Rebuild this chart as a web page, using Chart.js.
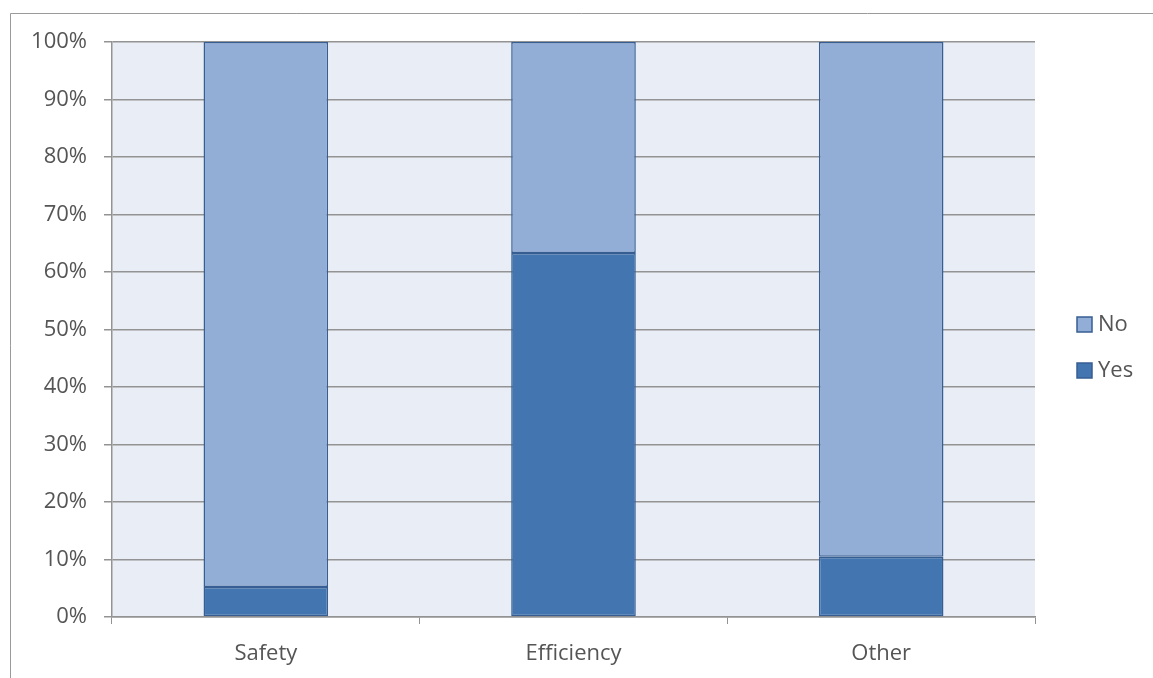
<!DOCTYPE html>
<html>
<head>
<meta charset="utf-8">
<script src="https://cdn.jsdelivr.net/npm/chart.js@4/dist/chart.umd.min.js"></script>
<style>
  html, body { margin: 0; padding: 0; background: #fff; }
  #chart { display: block; }
</style>
</head>
<body>
<canvas id="chart" width="1153" height="678"></canvas>
<script>
// data
const categories = ["Safety", "Efficiency", "Other"];
const yesValues = [5.2, 63.3, 10.5];
const noValues = [94.8, 36.7, 89.5];
const seriesNames = ["Yes", "No"];

const FONT = "'Open Sans', 'Liberation Sans', sans-serif";
const TEXT = "#555555";
const GRID = "#939393";

// frame + plot background
const frame = {
  id: "frame",
  beforeDraw(chart) {
    const { ctx, chartArea: a } = chart;
    ctx.save();
    ctx.fillStyle = "#E9EDF5";
    ctx.fillRect(a.left, a.top, a.right - a.left, a.bottom - a.top);
    ctx.strokeStyle = "#9a9a9a";
    ctx.lineWidth = 1;
    ctx.beginPath();
    ctx.moveTo(10.5, 678);
    ctx.lineTo(10.5, 13.5);
    ctx.lineTo(1153, 13.5);
    ctx.stroke();
    ctx.restore();
  }
};

// legend on the right, No above Yes
const sideLegend = {
  id: "sideLegend",
  afterDraw(chart) {
    const { ctx } = chart;
    const items = chart.data.datasets.slice().reverse();
    ctx.save();
    ctx.font = `22px ${FONT}`;
    ctx.textBaseline = "middle";
    items.forEach((ds, i) => {
      const y = 325 + i * 46;
      ctx.fillStyle = ds.backgroundColor;
      ctx.fillRect(1077, y - 8, 15, 15);
      ctx.strokeStyle = ds.borderColor;
      ctx.lineWidth = 1.5;
      ctx.strokeRect(1077, y - 8, 15, 15);
      ctx.fillStyle = TEXT;
      ctx.fillText(ds.label, 1098, y);
    });
    ctx.restore();
  }
};

new Chart(document.getElementById("chart"), {
  type: "bar",
  data: {
    labels: categories,
    datasets: [
      {
        label: seriesNames[0],
        data: yesValues,
        backgroundColor: "#4376B0",
        borderColor: "#375E92",
        borderWidth: 1.5,
        borderSkipped: false,
        barPercentage: 0.405,
        categoryPercentage: 1
      },
      {
        label: seriesNames[1],
        data: noValues,
        backgroundColor: "#93AED6",
        borderColor: "#375E92",
        borderWidth: 1.5,
        borderSkipped: false,
        barPercentage: 0.405,
        categoryPercentage: 1
      }
    ]
  },
  options: {
    responsive: false,
    devicePixelRatio: 1,
    animation: false,
    layout: { padding: { left: 0, right: 118, top: 42, bottom: 0 } },
    plugins: { legend: { display: false }, tooltip: { enabled: false } },
    scales: {
      x: {
        stacked: true,
        afterFit(s) { s.height = 61; },
        grid: { offset: true, drawOnChartArea: false, drawTicks: true, tickLength: 7, color: GRID },
        border: { color: GRID, width: 1.5 },
        ticks: { color: TEXT, font: { family: FONT, size: 22 }, padding: 17 }
      },
      y: {
        stacked: true,
        min: 0,
        max: 100,
        afterFit(s) { s.width = 112; },
        grid: { color: GRID, lineWidth: 1.5, tickLength: 8 },
        border: { color: GRID, width: 1.5 },
        ticks: {
          stepSize: 10,
          color: TEXT,
          padding: 17,
          font: { family: FONT, size: 22 },
          callback: v => v + "%"
        }
      }
    }
  },
  plugins: [frame, sideLegend]
});
</script>
</body>
</html>
